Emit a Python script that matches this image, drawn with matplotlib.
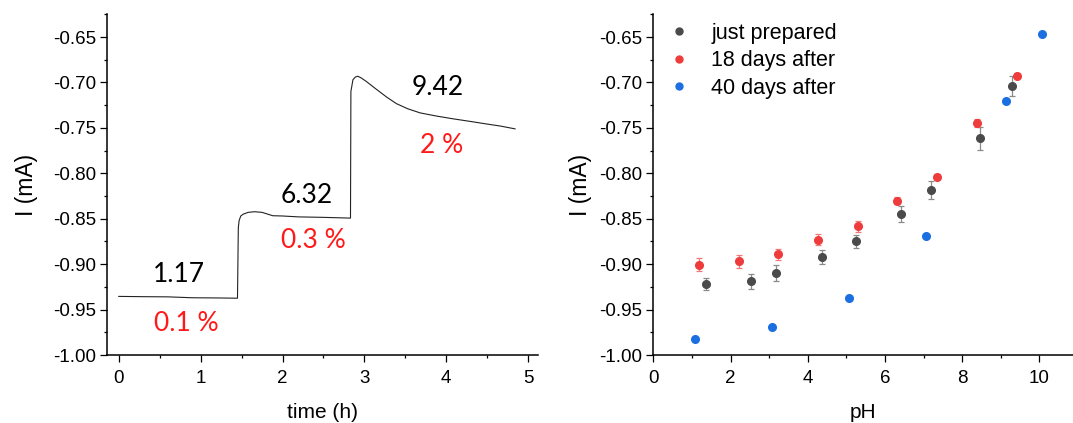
import matplotlib
matplotlib.use("Agg")
import matplotlib.pyplot as plt
from matplotlib.lines import Line2D
from matplotlib.ticker import MultipleLocator, FormatStrFormatter

plt.rcParams['font.family'] = ['Liberation Sans', 'DejaVu Sans']
plt.rcParams['axes.unicode_minus'] = False

# chronoamperometry trace
time_h = [0.0, 0.3, 0.6, 0.9, 1.2, 1.45, 1.46, 1.47, 1.49, 1.52, 1.58, 1.66,
          1.75, 1.88, 2.0, 2.2, 2.5, 2.82, 2.83, 2.835, 2.86, 2.89, 2.92,
          2.96, 3.02, 3.15, 3.27, 3.39, 3.53, 3.68, 3.88, 4.08, 4.3, 4.49,
          4.66, 4.84]
current_mA = [-0.9355, -0.9358, -0.936, -0.937, -0.9372, -0.9375, -0.860,
              -0.852, -0.847, -0.845, -0.843, -0.8423, -0.843, -0.8467,
              -0.847, -0.848, -0.8485, -0.8493, -0.8493, -0.710, -0.697,
              -0.694, -0.6932, -0.695, -0.6987, -0.7078, -0.716, -0.7233,
              -0.729, -0.7335, -0.737, -0.740, -0.743, -0.7457, -0.748,
              -0.7511]

# pH step labels and their relative changes
step_ph = ["1.17", "6.32", "9.42"]
step_ph_pos = [(0.74, -0.9195), (2.30, -0.8327), (3.89, -0.7134)]
step_pct = ["0.1 %", "0.3 %", "2 %"]
step_pct_pos = [(0.82, -0.9732), (2.38, -0.8824), (3.94, -0.7776)]

# current vs pH
ph_fresh = [1.37, 2.52, 3.18, 4.38, 5.25, 6.42, 7.18, 8.47, 9.30]
i_fresh = [-0.922, -0.919, -0.910, -0.892, -0.875, -0.845, -0.818, -0.7616, -0.7034]
err_fresh = [0.007, 0.008, 0.009, 0.0077, 0.007, 0.0088, 0.0099, 0.0127, 0.011]

ph_18d = [1.18, 2.21, 3.24, 4.27, 5.30, 6.32, 7.36, 8.39, 9.42]
i_18d = [-0.9005, -0.897, -0.889, -0.873, -0.8585, -0.830, -0.8036, -0.7447, -0.6924]
err_18d = [0.007, 0.007, 0.006, 0.006, 0.006, 0.004, 0.003, 0.004, 0.003]

ph_40d = [1.09, 3.08, 5.08, 7.07, 9.14, 10.08]
i_40d = [-0.9828, -0.9697, -0.9375, -0.8687, -0.7199, -0.6471]

series_labels = ["just prepared", "18 days after", "40 days after"]
series_colors = ["#4a4a4a", "#ee3b3b", "#1c6fe0"]

W, H = 1073, 423
fig = plt.figure(figsize=(W / 100, H / 100), dpi=100)
ax1 = fig.add_axes([107.3 / W, 68 / H, (538 - 107.3) / W, (355 - 14.3) / H])
ax2 = fig.add_axes([653.3 / W, 68 / H, (W - 653.3) / W, (355 - 14.3) / H])


def style_axes(ax):
    for side in ("top", "right"):
        ax.spines[side].set_visible(False)
    for side in ("left", "bottom"):
        ax.spines[side].set_linewidth(1.1)
    ax.tick_params(which="major", direction="out", length=5, width=0.9,
                   labelsize=13.5, pad=3)
    ax.tick_params(which="minor", direction="out", length=2.5, width=0.9)
    ax.set_ylim(-1.0, -0.625)
    ax.yaxis.set_major_locator(MultipleLocator(0.05))
    ax.yaxis.set_minor_locator(MultipleLocator(0.025))
    ax.yaxis.set_major_formatter(FormatStrFormatter("%.2f"))
    ax.tick_params(axis="x", pad=6)


style_axes(ax1)
ax1.plot(time_h, current_mA, color="#222222", lw=0.8)
ax1.set_xlim(-0.14, 5.12)
ax1.xaxis.set_major_locator(MultipleLocator(1))
ax1.xaxis.set_minor_locator(MultipleLocator(0.5))
ax1.set_xlabel("time (h)", fontsize=15, labelpad=11)
ax1.set_ylabel("I (mA)", fontsize=16.5, labelpad=11)

for txt, (x, y) in zip(step_ph, step_ph_pos):
    ax1.text(x, y, txt, fontsize=19, family=["Lato", "DejaVu Sans"],
             ha="center", va="baseline", color="black")
for txt, (x, y) in zip(step_pct, step_pct_pos):
    ax1.text(x, y, txt, fontsize=19, family=["Lato", "DejaVu Sans"],
             ha="center", va="baseline", color="#ff1a1a")

style_axes(ax2)
ax2.set_xlim(0, 10.87)
ax2.xaxis.set_major_locator(MultipleLocator(2))
ax2.xaxis.set_minor_locator(MultipleLocator(1))
ax2.set_xlabel("pH", fontsize=15, labelpad=11)
ax2.set_ylabel("I (mA)", fontsize=16.5, labelpad=5)

ax2.errorbar(ph_fresh, i_fresh, yerr=err_fresh, fmt="o", ms=5.5,
             color=series_colors[0], ecolor="#8a8a8a", elinewidth=0.9,
             capsize=2.5, capthick=0.9)
ax2.errorbar(ph_18d, i_18d, yerr=err_18d, fmt="o", ms=5.5,
             color=series_colors[1], ecolor="#f07a7a", elinewidth=0.9,
             capsize=2.5, capthick=0.9)
ax2.plot(ph_40d, i_40d, "o", ms=5.5, color=series_colors[2])

handles = [Line2D([], [], ls="none", marker="o", ms=5, color=c)
           for c in series_colors]
ax2.legend(handles, series_labels, loc="upper left",
           bbox_to_anchor=(0.036, 0.975), frameon=False, fontsize=15.5,
           handlelength=1.0, handletextpad=1.0, labelspacing=0.3,
           borderpad=0, borderaxespad=0, numpoints=1)

fig.savefig("out.png", dpi=100)
